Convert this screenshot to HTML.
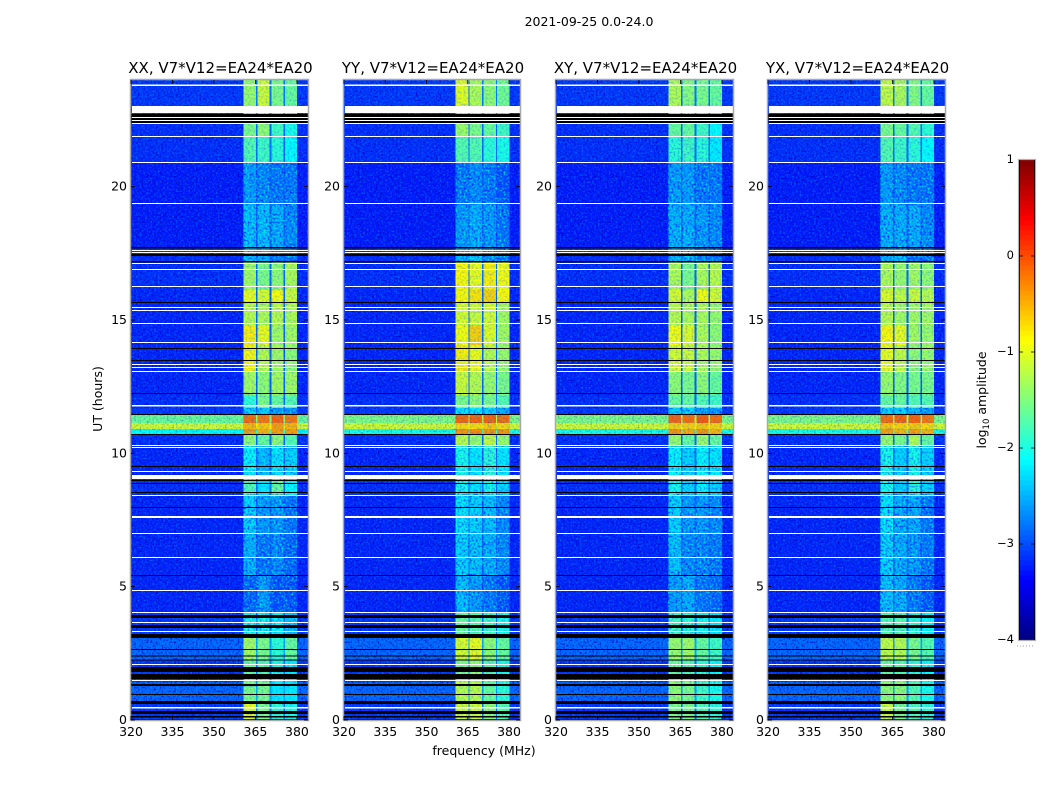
<!DOCTYPE html>
<html lang="en">
<head>
<meta charset="utf-8">
<title>2021-09-25 amplitude spectrograms</title>
<style>
html,body{margin:0;padding:0;background:#fff;width:1050px;height:800px;overflow:hidden}
svg{display:block}
text{font-family:"DejaVu Sans","Liberation Sans",sans-serif;fill:#000;font-size:12.5px}
</style>
</head>
<body>
<svg id="chart" width="1050" height="800" viewBox="0 0 1050 800" xmlns="http://www.w3.org/2000/svg">
<defs>
<filter id="grainDark" x="0" y="0" width="100%" height="100%" color-interpolation-filters="sRGB">
<feTurbulence type="fractalNoise" baseFrequency="0.55" numOctaves="1" seed="4"/>
<feColorMatrix type="matrix" values="0 0 0 0 0  0 0 0 0 0  0 0 0 0 0.75  2.6 0 0 0 -1.2"/>
</filter>
<filter id="grainLight" x="0" y="0" width="100%" height="100%" color-interpolation-filters="sRGB">
<feTurbulence type="fractalNoise" baseFrequency="0.55" numOctaves="1" seed="11"/>
<feColorMatrix type="matrix" values="0 0 0 0 0  0 0 0 0 0.62  0 0 0 0 1  0 2.6 0 0 -1.25"/>
</filter>
<filter id="grainBright" x="0" y="0" width="100%" height="100%" color-interpolation-filters="sRGB">
<feTurbulence type="fractalNoise" baseFrequency="0.5" numOctaves="1" seed="23"/>
<feColorMatrix type="matrix" values="0 0 0 0 0  0 0 0 0 0.95  0 0 0 0 0.85  0 2.8 0 0 -1.3"/>
</filter>
<filter id="grainDeep" x="0" y="0" width="100%" height="100%" color-interpolation-filters="sRGB">
<feTurbulence type="fractalNoise" baseFrequency="0.5" numOctaves="1" seed="31"/>
<feColorMatrix type="matrix" values="0 0 0 0 0  0 0 0 0 0.1  0 0 0 0 1  2.8 0 0 0 -1.2"/>
</filter>
</defs>
<text x="589" y="26" text-anchor="middle">2021-09-25 0.0-24.0</text>
<text x="484" y="755" text-anchor="middle">frequency (MHz)</text>
<text transform="translate(102,399) rotate(-90)" text-anchor="middle">UT (hours)</text>
<text transform="translate(986,400) rotate(-90)" text-anchor="middle">log<tspan font-size="8.5" dy="3">10</tspan><tspan dy="-3"> amplitude</tspan></text>
<g id="panels"></g>
<g id="colorbar"></g>
</svg>
<script>
const panelTitles = ["XX, V7*V12=EA24*EA20", "YY, V7*V12=EA24*EA20", "XY, V7*V12=EA24*EA20", "YX, V7*V12=EA24*EA20"];
const freqTicks = [320, 335, 350, 365, 380];
const utTicks = [0, 5, 10, 15, 20];
const colorTicks = [1, 0, -1, -2, -3, -4];
const bandsMHz = [[360.6, 365.2], [365.7, 370.1], [370.8, 375.2], [375.7, 380.1]];
const rowEdgesUT = [0, 0.68, 1.43, 2.25, 3.08, 4.05, 5.44, 6.94, 8.44, 9, 10.28, 10.73, 10.91, 11.14, 11.44, 11.7, 12.19, 13.05, 14.06, 14.81, 15.68, 16.13, 17.18, 17.7, 19.31, 20.89, 21.9, 22.76, 24];
// each row: background, band 1, band 2, band 3, band 4 (log10 amplitude)
const levelsXX = [
[-3.1,-1.0,-1.5,-1.9,-2.0],[-2.85,-1.5,-1.5,-2.2,-2.2],[-3.1,-1.6,-1.7,-2.0,-2.2],[-2.85,-1.3,-1.5,-1.9,-1.6],
[-3.1,-2.0,-2.0,-2.1,-2.4],[-3.2,-2.9,-2.6,-3.0,-3.0],[-3.2,-2.5,-2.8,-2.7,-2.9],[-3.2,-2.3,-2.6,-2.6,-2.8],
[-3.15,-1.7,-2.2,-1.6,-2.1],[-3.2,-2.1,-2.4,-2.2,-2.3],[-3.15,-1.4,-1.6,-1.4,-1.7],[-2.1,-0.4,-0.5,-0.4,-0.4],
[-1.1,-0.5,-0.6,-0.4,-0.5],[-1.6,-0.15,-0.2,-0.1,-0.2],[-3.1,-2.3,-2.3,-2.6,-2.6],[-3.15,-1.9,-1.5,-1.6,-1.7],
[-3.2,-1.3,-1.4,-1.3,-1.3],[-3.2,-0.85,-1.2,-1.3,-1.4],[-3.2,-0.8,-0.95,-1.3,-1.3],[-3.2,-1.2,-1.25,-1.2,-1.25],
[-3.2,-0.95,-1.05,-0.9,-1.1],[-3.15,-1.3,-1.5,-1.4,-1.25],[-3.15,-2.4,-2.5,-2.8,-2.8],[-3.25,-2.4,-2.4,-2.5,-2.7],
[-3.25,-2.6,-2.7,-2.8,-2.8],[-3.15,-1.7,-1.8,-1.9,-2.1],[-3.15,-1.5,-1.4,-1.8,-2.0],[-3.1,-1.35,-1.1,-1.5,-1.6]];
const levelsYY = [
[-3.1,-1.1,-1.1,-1.4,-1.7],[-2.85,-1.2,-1.2,-1.6,-1.9],[-3.1,-1.5,-1.4,-1.7,-2.0],[-2.85,-1.05,-0.95,-1.4,-1.6],
[-3.1,-1.6,-1.7,-1.8,-2.0],[-3.2,-2.4,-2.6,-2.8,-3.0],[-3.2,-2.3,-2.4,-2.5,-2.7],[-3.2,-2.2,-2.3,-2.4,-2.7],
[-3.15,-2.0,-2.2,-2.0,-2.3],[-3.2,-2.0,-2.2,-1.9,-2.2],[-3.15,-1.2,-1.35,-1.15,-1.35],[-2.0,-0.35,-0.3,-0.35,-0.35],
[-1.1,-0.7,-0.7,-0.6,-0.7],[-1.5,-0.1,-0.1,-0.1,-0.15],[-3.1,-2.2,-2.2,-2.3,-2.5],[-3.15,-1.5,-1.4,-1.5,-1.7],
[-3.2,-1.1,-1.2,-1.35,-1.5],[-3.2,-0.8,-0.95,-1.2,-1.35],[-3.2,-0.9,-0.65,-1.0,-1.3],[-3.2,-1.05,-1.1,-1.05,-1.3],
[-3.2,-0.85,-0.75,-0.65,-0.85],[-3.15,-0.85,-0.95,-0.8,-0.9],[-3.15,-2.5,-2.3,-2.6,-2.8],[-3.25,-2.6,-2.5,-2.6,-2.8],
[-3.25,-2.8,-2.7,-2.8,-3.0],[-3.15,-1.7,-1.7,-1.9,-2.0],[-3.15,-1.35,-1.5,-1.6,-1.8],[-3.1,-1.0,-1.25,-1.4,-1.55]];
const levelsXY = [
[-3.1,-1.5,-1.5,-1.7,-1.9],[-2.85,-1.4,-1.5,-1.8,-2.0],[-3.1,-1.6,-1.7,-1.9,-2.1],[-2.85,-1.35,-1.3,-1.6,-1.8],
[-3.1,-1.8,-1.9,-2.0,-2.2],[-3.2,-2.6,-2.5,-2.8,-2.9],[-3.2,-2.4,-2.7,-2.7,-2.8],[-3.2,-2.3,-2.6,-2.6,-2.7],
[-3.15,-2.0,-2.3,-2.1,-2.3],[-3.2,-2.1,-2.3,-2.1,-2.2],[-3.15,-1.35,-1.6,-1.35,-1.6],[-2.0,-0.35,-0.45,-0.35,-0.5],
[-1.1,-0.65,-0.65,-0.6,-0.65],[-1.5,-0.1,-0.15,-0.05,-0.15],[-3.1,-2.3,-2.3,-2.6,-2.6],[-3.15,-1.6,-1.6,-1.7,-1.8],
[-3.2,-1.4,-1.5,-1.4,-1.6],[-3.2,-1.05,-1.1,-1.25,-1.35],[-3.2,-0.9,-1.0,-1.25,-1.4],[-3.2,-1.2,-1.25,-1.25,-1.35],
[-3.2,-1.05,-1.25,-0.9,-1.05],[-3.15,-1.25,-1.5,-1.25,-1.2],[-3.15,-2.5,-2.5,-2.8,-2.8],[-3.25,-2.5,-2.5,-2.6,-2.7],
[-3.25,-2.6,-2.6,-2.8,-2.8],[-3.15,-1.9,-1.8,-1.9,-2.2],[-3.15,-1.6,-1.6,-1.8,-2.1],[-3.1,-1.25,-1.45,-1.5,-1.6]];
const levelsYX = [
[-3.1,-1.1,-1.5,-1.7,-1.9],[-2.85,-1.4,-1.4,-1.7,-2.0],[-3.1,-1.6,-1.7,-1.9,-2.1],[-2.85,-1.15,-1.2,-1.5,-1.7],
[-3.1,-1.7,-1.7,-1.9,-2.1],[-3.2,-2.4,-2.5,-2.8,-3.0],[-3.2,-2.3,-2.5,-2.6,-2.8],[-3.2,-2.2,-2.5,-2.5,-2.8],
[-3.15,-2.0,-2.3,-1.9,-2.3],[-3.2,-2.0,-2.3,-2.0,-2.3],[-3.15,-1.35,-1.5,-1.25,-1.6],[-2.0,-0.4,-0.5,-0.4,-0.5],
[-1.1,-0.6,-0.65,-0.6,-0.7],[-1.5,-0.15,-0.1,-0.1,-0.2],[-3.1,-2.3,-2.3,-2.4,-2.6],[-3.15,-1.6,-1.6,-1.7,-1.7],
[-3.2,-1.35,-1.45,-1.5,-1.5],[-3.2,-0.95,-1.15,-1.4,-1.35],[-3.2,-0.85,-0.95,-1.3,-1.35],[-3.2,-1.2,-1.3,-1.3,-1.3],
[-3.2,-1.0,-1.15,-1.1,-1.2],[-3.15,-1.25,-1.35,-1.3,-1.4],[-3.15,-2.5,-2.4,-2.8,-2.8],[-3.25,-2.5,-2.5,-2.5,-2.7],
[-3.25,-2.6,-2.7,-2.8,-2.8],[-3.15,-1.7,-1.8,-1.9,-2.1],[-3.15,-1.5,-1.6,-1.7,-1.9],[-3.1,-1.15,-1.25,-1.45,-1.6]];
const flaggedWhiteUT = [[23.78,23.83],[22.76,23.03],[22.58,22.61],[22.46,22.5],[22.35,22.39],[21.86,21.9],[20.89,20.93],[19.35,19.39],[17.59,17.63],[17.51,17.55],[17.1,17.14],[16.87,16.91],[16.24,16.28],[15.45,15.49],[15.34,15.38],[14.85,14.89],[14.14,14.18],[13.31,13.35],[13.2,13.24],[13.05,13.09],[11.76,11.81],[10.28,10.31],[10.2,10.24],[9.3,9.34],[9.04,9.19],[8.4,8.44],[7.58,7.65],[6.98,7.01],[6.08,6.11],[4.84,4.88],[4.01,4.05],[3.64,3.68],[3.3,3.34],[2.06,2.1],[1.46,1.5],[0.43,0.49]];
const flaggedBlackUT = [[22.62,22.72],[22.5,22.575],[22.39,22.46],[17.68,17.74],[17.4,17.48],[17.16,17.21],[15.64,15.68],[13.91,13.95],[13.46,13.5],[12.22,12.26],[11.44,11.48],[10.69,10.73],[9.49,9.53],[8.96,9.0],[8.85,8.89],[8.51,8.55],[7.95,7.99],[5.4,5.44],[3.83,3.94],[3.45,3.56],[3.08,3.23],[2.63,2.66],[2.38,2.42],[2.23,2.27],[1.8,1.99],[1.54,1.73],[1.28,1.35],[0.94,0.98],[0.6,0.71],[0.23,0.34],[0.09,0.15],[0,0.04]];

const panelLevels = [levelsXX, levelsYY, levelsXY, levelsYX];
const NS = "http://www.w3.org/2000/svg";
const plotTop = 80, plotBottom = 720, freqMin = 320, freqMax = 384, utMax = 24;
const panelBoxes = [{l:131,r:308},{l:344,r:520},{l:556,r:733},{l:768,r:945}];
const cbar = {l:1019, r:1035, t:160, b:640, min:-4, max:1};

function yScale(ut){ return plotBottom - (ut / utMax) * (plotBottom - plotTop); }
function xScale(f, box){ return box.l + (f - freqMin) / (freqMax - freqMin) * (box.r - box.l); }
function cbarY(v){ return cbar.b - (v - cbar.min) / (cbar.max - cbar.min) * (cbar.b - cbar.t); }
function jet(v){
  const t = Math.min(1, Math.max(0, (v - cbar.min) / (cbar.max - cbar.min)));
  const ch = c => Math.round(255 * Math.min(1, Math.max(0, 1.5 - Math.abs(4 * t - c))));
  return "rgb(" + ch(3) + "," + ch(2) + "," + ch(1) + ")";
}
function make(tag, attrs, parent){
  const el = document.createElementNS(NS, tag);
  for (const k in attrs) el.setAttribute(k, attrs[k]);
  parent.appendChild(el);
  return el;
}

const panelsRoot = document.getElementById("panels");
panelTitles.forEach(function(title, p){
  const box = panelBoxes[p];
  const levels = panelLevels[p];
  const g = make("g", {}, panelsRoot);
  
  

  const backgrounds = make("g", {"shape-rendering":"crispEdges"}, g);
  
  
  levels.forEach(function(row, r){
    const top = yScale(rowEdgesUT[r + 1]);
    const bottom = yScale(rowEdgesUT[r]);
    const bg = make("rect", {x:box.l, y:top, width:box.r - box.l, height:bottom - top, fill:jet(row[0])}, backgrounds);
    
    
  });

  const grainDark = make("rect", {x:box.l, y:plotTop, width:box.r - box.l, height:plotBottom - plotTop, filter:"url(#grainDark)"}, g);
  
  
  const grainLight = make("rect", {x:box.l, y:plotTop, width:box.r - box.l, height:plotBottom - plotTop, filter:"url(#grainLight)", opacity:0.6}, g);
  
  

  const cells = make("g", {"shape-rendering":"crispEdges"}, g);
  
  
  levels.forEach(function(row, r){
    const top = yScale(rowEdgesUT[r + 1]);
    const bottom = yScale(rowEdgesUT[r]);
    if (row[0] > -2.5){
      const hot = make("rect", {x:box.l, y:top, width:box.r - box.l, height:bottom - top, fill:jet(row[0]), "fill-opacity":0.6}, cells);
      
      
    }
    const notchFrom = xScale(bandsMHz[0][1], box);
    const notchTo = xScale(bandsMHz[3][0], box);
    const notch = make("rect", {x:notchFrom, y:top, width:notchTo - notchFrom, height:bottom - top, fill:jet(row[0] + 0.3)}, cells);
    
    
    bandsMHz.forEach(function(band, b){
      const x0 = xScale(band[0], box);
      const x1 = xScale(band[1], box);
      const cell = make("rect", {x:x0, y:top, width:x1 - x0, height:bottom - top, fill:jet(row[b + 1])}, cells);
      
      
    });
  });

  levels.forEach(function(row, r){
    const top = yScale(rowEdgesUT[r + 1]);
    const bottom = yScale(rowEdgesUT[r]);
    const mean = (row[1] + row[2] + row[3] + row[4]) / 4;
    const strength = Math.min(0.85, Math.max(0.25, (-1.5 - mean) * 0.85));
    const x0 = xScale(bandsMHz[0][0], box);
    const x1 = xScale(bandsMHz[3][1], box);
    const deep = make("rect", {x:x0, y:top, width:x1 - x0, height:bottom - top, filter:"url(#grainDeep)", opacity:strength}, g);
    
    
    const bright = make("rect", {x:x0, y:top, width:x1 - x0, height:bottom - top, filter:"url(#grainBright)", opacity:strength}, g);
    
    
  });

  const flags = make("g", {"shape-rendering":"crispEdges"}, g);
  
  
  flaggedBlackUT.forEach(function(f){
    const el = make("rect", {x:box.l, y:yScale(f[1]), width:box.r - box.l, height:yScale(f[0]) - yScale(f[1]), fill:"#000"}, flags);
    
    
  });
  flaggedWhiteUT.forEach(function(f){
    const el = make("rect", {x:box.l + 1, y:yScale(f[1]), width:box.r - box.l - 1, height:yScale(f[0]) - yScale(f[1]), fill:"#fff"}, flags);
    
    
  });

  const frame = make("rect", {x:box.l - 0.5, y:plotTop - 0.5, width:box.r - box.l + 1, height:plotBottom - plotTop + 1, fill:"none", stroke:"#a8a8a8", "stroke-width":1.5}, g);
  
  

  const heading = make("text", {x:(box.l + box.r) / 2 + 1, y:73, "text-anchor":"middle", style:"font-size:15px"}, g);
  
  
  heading.textContent = title;

  freqTicks.forEach(function(f){
    const x = xScale(f, box);
    const tickB = make("line", {x1:x, x2:x, y1:plotBottom, y2:plotBottom - 4, stroke:"#000", "stroke-width":0.8}, g);
    
    
    const tickT = make("line", {x1:x, x2:x, y1:plotTop, y2:plotTop + 4, stroke:"#000", "stroke-width":0.8}, g);
    
    
    const label = make("text", {x:x, y:736, "text-anchor":"middle"}, g);
    
    
    label.textContent = f;
  });
  utTicks.forEach(function(u){
    const y = yScale(u);
    const tickL = make("line", {x1:box.l, x2:box.l + 4, y1:y, y2:y, stroke:"#000", "stroke-width":0.8}, g);
    
    
    const tickR = make("line", {x1:box.r, x2:box.r - 4, y1:y, y2:y, stroke:"#000", "stroke-width":0.8}, g);
    
    
    const label = make("text", {x:box.l - 4, y:y + 4, "text-anchor":"end"}, g);
    
    
    label.textContent = u;
  });
});

const cbarRoot = document.getElementById("colorbar");
const cbarSteps = 96;
for (let i = 0; i < cbarSteps; i++){
  const v0 = cbar.min + (cbar.max - cbar.min) * i / cbarSteps;
  const v1 = cbar.min + (cbar.max - cbar.min) * (i + 1) / cbarSteps;
  const step = make("rect", {x:cbar.l, y:cbarY(v1), width:cbar.r - cbar.l, height:cbarY(v0) - cbarY(v1) + 0.5, fill:jet((v0 + v1) / 2), "shape-rendering":"crispEdges"}, cbarRoot);
  
  
}
const cbarFrame = make("rect", {x:cbar.l - 0.5, y:cbar.t - 0.5, width:cbar.r - cbar.l + 1, height:cbar.b - cbar.t + 1, fill:"none", stroke:"#b0b0b0", "stroke-width":1.2}, cbarRoot);


const cbarLeftEdge = make("line", {x1:cbar.l + 0.5, x2:cbar.l + 0.5, y1:cbar.t, y2:cbar.b, stroke:"#000", "stroke-width":0.8}, cbarRoot);


const cbarRightEdge = make("line", {x1:cbar.r - 0.5, x2:cbar.r - 0.5, y1:cbar.t, y2:cbar.b, stroke:"#000", "stroke-width":0.8}, cbarRoot);


colorTicks.forEach(function(v){
  const y = cbarY(v);
  if (v > cbar.min && v < cbar.max){
    const tickL = make("line", {x1:cbar.l, x2:cbar.l + 4, y1:y, y2:y, stroke:"#000", "stroke-width":0.8}, cbarRoot);
    
    
    const tickR = make("line", {x1:cbar.r, x2:cbar.r - 4, y1:y, y2:y, stroke:"#000", "stroke-width":0.8}, cbarRoot);
    
    
  }
  const label = make("text", {x:cbar.l - 5, y:y + 3, "text-anchor":"end", style:"font-size:11.5px"}, cbarRoot);
  
  
  label.textContent = String(v).replace("-", "\u2212");
});
const cbarDots = make("line", {x1:cbar.l - 2, x2:cbar.r, y1:646, y2:646, stroke:"#999", "stroke-width":1, "stroke-dasharray":"1 2"}, cbarRoot);


</script>
</body>
</html>
